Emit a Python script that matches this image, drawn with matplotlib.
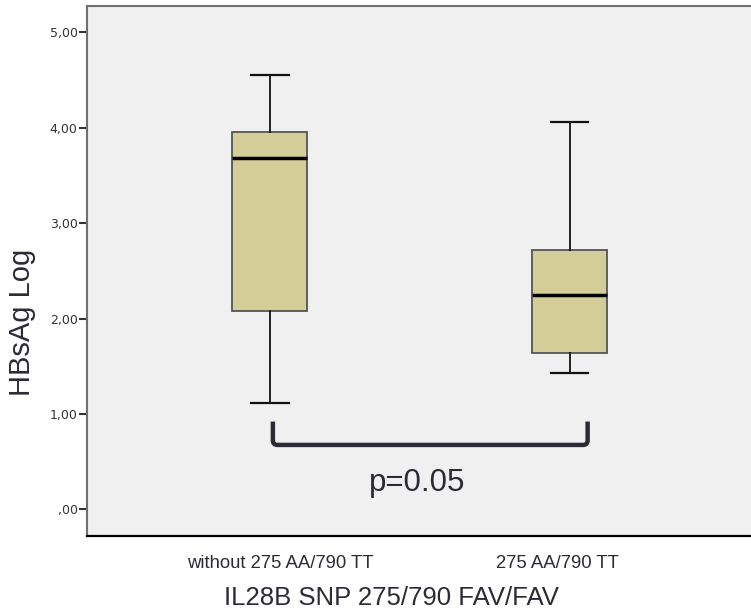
import matplotlib
matplotlib.use("Agg")
import matplotlib.pyplot as plt
from matplotlib.path import Path
from matplotlib.patches import PathPatch

plt.rcParams['font.family'] = ['Liberation Sans', 'DejaVu Sans']

# box statistics
groups = ['without 275 AA/790 TT', '275 AA/790 TT']
whislo = [1.11, 1.43]
q1 = [2.08, 1.64]
med = [3.68, 2.25]
q3 = [3.96, 2.72]
whishi = [4.55, 4.06]
yticks = [0, 1, 2, 3, 4, 5]
ytick_labels = [',00', '1,00', '2,00', '3,00', '4,00', '5,00']
p_text = 'p=0.05'

stats = []
for i in range(len(groups)):
    stats.append(dict(label=groups[i], whislo=whislo[i], q1=q1[i], med=med[i],
                      q3=q3[i], whishi=whishi[i], fliers=[]))

fig = plt.figure(figsize=(7.51, 6.13), dpi=100)
ax = fig.add_axes([0.1163, 0.1248, 0.8837, 0.866])
ax.set_facecolor('#f0f0f0')

ax.bxp(stats, positions=[1, 2], widths=0.25, patch_artist=True,
       boxprops=dict(facecolor='#d3ce98', edgecolor='#555555', linewidth=1.3),
       medianprops=dict(color='black', linewidth=2.5),
       whiskerprops=dict(color='#111111', linewidth=1.3),
       capprops=dict(color='#111111', linewidth=1.6),
       capwidths=0.125)

ax.set_xlim(0.391, 2.605)
ax.set_ylim(-0.285, 5.28)

# significance bracket with rounded corners
x0, x1, ytop, ybot, r = 1.01, 2.06, 0.92, 0.675, 0.05
verts = [(x0, ytop), (x0, ybot + r), (x0, ybot), (x0 + 0.015, ybot),
         (x1 - 0.015, ybot), (x1, ybot), (x1, ybot + r), (x1, ytop)]
codes = [Path.MOVETO, Path.LINETO, Path.CURVE3, Path.CURVE3,
         Path.LINETO, Path.CURVE3, Path.CURVE3, Path.LINETO]
ax.add_patch(PathPatch(Path(verts, codes), facecolor='none',
                       edgecolor='#2b2b35', linewidth=3.2, capstyle='butt'))
ax.text(1.49, 0.28, p_text, ha='center', va='center', fontsize=22.5, color='#2b2b35')

# category labels sit slightly off the box centres in the original
ax.set_xticks([1.033, 1.96])
ax.set_xticklabels(groups)
ax.set_yticks(yticks)
ax.set_yticklabels(ytick_labels, family='DejaVu Sans')
ax.tick_params(axis='y', length=6, width=1.5, color='#333333', labelsize=9,
               labelcolor='#333333', pad=1)
ax.tick_params(axis='x', length=0, labelsize=13.3, labelcolor='#2b2b35', pad=13)

for side in ['left', 'top']:
    ax.spines[side].set_color('#707070')
    ax.spines[side].set_linewidth(1.5)
ax.spines['bottom'].set_color('black')
ax.spines['bottom'].set_linewidth(1.6)
ax.spines['right'].set_visible(False)

ax.set_xlabel('IL28B SNP 275/790 FAV/FAV', fontsize=18.5, color='#2b2b35')
ax.xaxis.set_label_coords(0.458, -0.094)
ax.set_ylabel('HBsAg Log', fontsize=21, color='#2b2b35')
ax.yaxis.set_label_coords(-0.078, 0.404)

fig.savefig('out.png', dpi=100)
